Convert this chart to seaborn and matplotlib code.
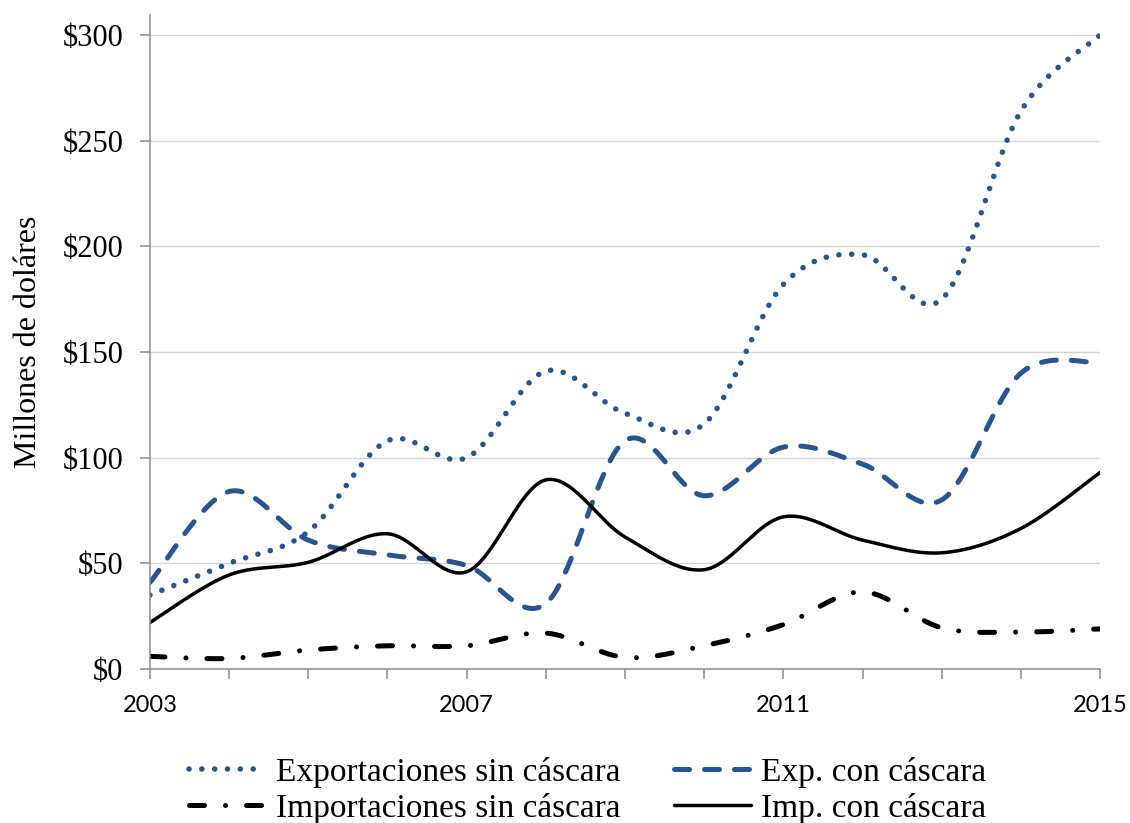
import numpy as np
import pandas as pd
import matplotlib
matplotlib.use("Agg")
import matplotlib.pyplot as plt
import seaborn as sns

years = list(range(2003, 2016))
exp_sin = [35, 50, 65, 108, 100, 141, 121, 116, 182, 196, 175, 264, 300]
exp_con = [41, 84, 61, 54, 49, 31, 108, 82, 105, 97, 80, 140, 145]
imp_sin = [6, 5, 9, 11, 11, 17, 5.5, 11, 21, 36.5, 19.5, 17.5, 19]
imp_con = [22, 44.5, 50.5, 64, 46, 89.5, 62.5, 47, 72, 61, 55, 66.5, 93]

labels = ["Exportaciones sin cáscara", "Exp. con cáscara",
          "Importaciones sin cáscara", "Imp. con cáscara"]
y_ticks = [0, 50, 100, 150, 200, 250, 300]
x_labels = [2003, 2007, 2011, 2015]


def smooth(xs, ys, n=40):
    # bezier smoothing like the spreadsheet "smoothed line"
    xs = np.asarray(xs, float)
    ys = np.asarray(ys, float)
    px = np.concatenate([[xs[0]], xs, [xs[-1]]])
    py = np.concatenate([[ys[0]], ys, [ys[-1]]])
    outx, outy = [], []
    t = np.linspace(0, 1, n, endpoint=False)
    for i in range(1, len(px) - 2):
        p0 = np.array([px[i], py[i]])
        p3 = np.array([px[i + 1], py[i + 1]])
        p1 = p0 + (p3 - np.array([px[i - 1], py[i - 1]])) / 6
        p2 = p3 - (np.array([px[i + 2], py[i + 2]]) - p0) / 6
        pts = ((1 - t) ** 3)[:, None] * p0 + (3 * (1 - t) ** 2 * t)[:, None] * p1 \
            + (3 * (1 - t) * t ** 2)[:, None] * p2 + (t ** 3)[:, None] * p3
        outx.extend(pts[:, 0])
        outy.extend(pts[:, 1])
    outx.append(xs[-1])
    outy.append(ys[-1])
    return np.array(outx), np.array(outy)


sns.set_theme(style="white")
plt.rcParams['font.family'] = ['Liberation Serif', 'DejaVu Serif']
plt.rcParams['text.color'] = 'black'
plt.rcParams['axes.labelcolor'] = 'black'
plt.rcParams['xtick.color'] = 'black'
plt.rcParams['ytick.color'] = 'black'

fig = plt.figure(figsize=(11.3, 8.23), dpi=100)
ax = fig.add_axes([0.1327, 0.1871, 0.8408, 0.7947])

blue = '#275592'
styles = [
    dict(color=blue, lw=4.0, linestyle=(0, (0.01, 2.3)), dash_capstyle='round'),
    dict(color=blue, lw=3.6, linestyle=(0, (3.0, 3.0)), dash_capstyle='round'),
    dict(color='black', lw=3.6, linestyle=(0, (3.0, 4.2, 0.01, 4.2)), dash_capstyle='round'),
    dict(color='black', lw=2.5, linestyle='-'),
]
series = [exp_sin, exp_con, imp_sin, imp_con]

for vals, lab, st in zip(series, labels, styles):
    sx, sy = smooth(years, vals)
    df = pd.DataFrame({"year": sx, "value": sy})
    sns.lineplot(data=df, x="year", y="value", ax=ax, label=lab, sort=False, **st)

ax.set_xlim(2003, 2015)
ax.set_ylim(0, 309.5)
ax.set_yticks(y_ticks)
ax.set_yticklabels([f"${v}" for v in y_ticks], fontsize=22)
ax.set_xticks(years)
ax.set_xticklabels([str(y) if y in x_labels else "" for y in years],
                   fontsize=17, family=['Lato', 'DejaVu Sans'])
ax.grid(axis='y', color='#d4d4d4', lw=1)
ax.set_axisbelow(True)
for s in ['top', 'right']:
    ax.spines[s].set_visible(False)
for s in ['left', 'bottom']:
    ax.spines[s].set_color('#8c8c8c')
    ax.spines[s].set_linewidth(1.1)
ax.tick_params(axis='both', which='major', direction='out', length=7, width=1.1,
               color='#8c8c8c', labelcolor='black', left=True, bottom=True)
ax.tick_params(axis='y', pad=12)
ax.tick_params(axis='x', pad=12)
ax.set_xlabel("")
ax.set_ylabel("Millones de doláres", fontsize=23, labelpad=14, color='black')

ax.get_legend().remove()
h, l = ax.get_legend_handles_labels()
order = [0, 2, 1, 3]
fig.legend([h[i] for i in order], [l[i] for i in order], loc='center',
           bbox_to_anchor=(0.52, 0.04), ncol=2, frameon=False, fontsize=24,
           handlelength=2.3, handletextpad=0.3, columnspacing=1.6,
           labelspacing=0.15, borderpad=0, labelcolor='black')

fig.savefig("out.png", dpi=100)
